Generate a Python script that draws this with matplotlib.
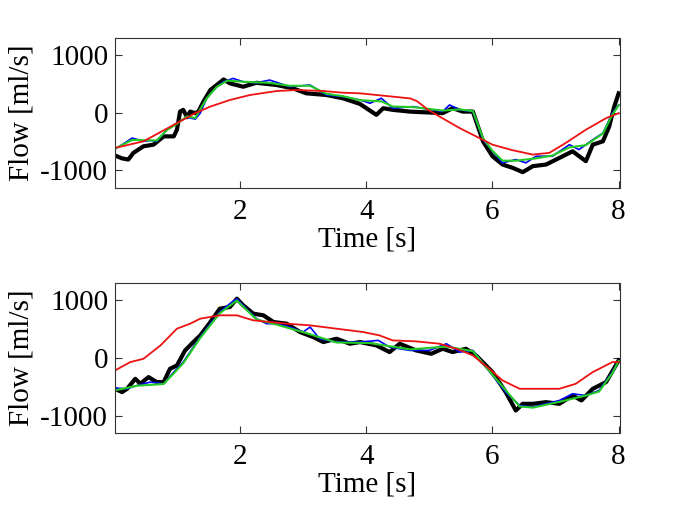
import matplotlib
matplotlib.use('Agg')
import matplotlib.pyplot as plt
import numpy as np

plt.rcParams['font.family'] = ['Liberation Serif', 'DejaVu Serif']
plt.rcParams['axes.unicode_minus'] = False

# ---- top panel ----
t_k1 = [0.02, 0.13, 0.23, 0.31, 0.47, 0.63, 0.79, 0.95, 1.0, 1.05, 1.10, 1.16, 1.21, 1.29, 1.34, 1.42, 1.53,
        1.63, 1.74, 1.84, 2.05, 2.26, 2.58, 2.84, 3.05, 3.37, 3.63, 3.90, 4.16, 4.27, 4.42, 4.69, 5.21, 5.37,
        5.53, 5.69, 5.85, 6.00, 6.16, 6.32, 6.48, 6.64, 6.85, 7.06, 7.27, 7.48, 7.59, 7.75, 7.85, 7.93, 8.0]
k1 = [-740, -790, -810, -695, -580, -552, -408, -408, -293, 22, 52, -75, 22, -5, 22, 195, 397,
      483, 580, 512, 454, 522, 483, 425, 339, 310, 253, 155, -34, 81, 52, 22, -5, 81,
      22, 22, -494, -753, -897, -954, -1029, -925, -897, -782, -667, -839, -552, -494, -236, 109, 339]

t_b1 = [0.02, 0.15, 0.29, 0.40, 0.47, 0.58, 0.68, 0.84, 1.0, 1.16, 1.29, 1.37, 1.47, 1.63, 1.74, 1.89, 2.05,
        2.26, 2.47, 2.79, 3.11, 3.37, 3.63, 3.90, 4.06, 4.24, 4.42, 4.74, 5.0, 5.21, 5.32, 5.48, 5.69, 5.85,
        6.0, 6.16, 6.37, 6.53, 6.69, 6.95, 7.22, 7.37, 7.59, 7.75, 7.90, 8.0]
b1 = [-626, -540, -437, -470, -494, -480, -494, -293, -178, -75, -109, -5, 253, 454, 540, 598, 540,
      522, 569, 454, 483, 310, 282, 224, 167, 253, 81, 109, 60, 22, 138, 52, 22, -466,
      -667, -868, -810, -868, -753, -753, -552, -638, -466, -351, -5, 138]

t_g1 = [0.02, 0.29, 0.68, 0.84, 1.0, 1.16, 1.29, 1.47, 1.63, 1.80, 2.05, 2.47, 2.79, 3.11, 3.37, 3.63, 3.90,
        4.24, 4.42, 4.74, 5.21, 5.48, 5.69, 5.85, 6.0, 6.16, 6.37, 6.69, 6.95, 7.22, 7.48, 7.75, 7.90, 8.0]
g1 = [-620, -470, -480, -300, -190, -60, -90, 250, 450, 560, 540, 520, 470, 470, 330, 290, 220,
      200, 110, 100, 40, 60, 30, -440, -660, -830, -830, -790, -740, -600, -560, -360, -30, 130]

t_r1 = [0.02, 0.47, 1.0, 1.29, 1.53, 1.84, 2.16, 2.58, 2.90, 3.32, 3.63, 3.90, 4.42, 4.70, 4.80, 4.88, 4.97,
        5.16, 5.48, 5.74, 6.0, 6.32, 6.64, 6.90, 7.16, 7.48, 7.80, 8.0]
r1 = [-609, -494, -178, -5, 109, 224, 310, 379, 397, 379, 350, 339, 282, 250, 205, 140, 60,
      -63, -264, -408, -552, -649, -724, -695, -523, -293, -92, -5]

# ---- bottom panel ----
t_k2 = [0.02, 0.13, 0.21, 0.34, 0.42, 0.55, 0.68, 0.79, 0.89, 1.0, 1.13, 1.26, 1.37, 1.53, 1.68, 1.84, 1.95,
        2.05, 2.21, 2.37, 2.53, 2.74, 2.95, 3.16, 3.32, 3.53, 3.74, 3.90, 4.16, 4.37, 4.53, 4.79, 5.03, 5.21,
        5.37, 5.58, 5.74, 6.0, 6.21, 6.37, 6.48, 6.64, 6.85, 7.06, 7.27, 7.41, 7.59, 7.80, 8.0]
k2 = [-533, -591, -533, -360, -446, -330, -417, -417, -186, -128, 133, 278, 394, 626, 858, 887, 1031,
      916, 771, 742, 626, 597, 452, 365, 278, 336, 249, 278, 220, 104, 249, 133, 75, 162,
      104, 162, 46, -243, -591, -910, -794, -794, -765, -794, -649, -736, -533, -417, -41]

t_b2 = [0.02, 0.21, 0.37, 0.58, 0.79, 0.95, 1.10, 1.26, 1.37, 1.53, 1.68, 1.84, 1.95, 2.10, 2.26, 2.42, 2.58,
        2.79, 3.0, 3.11, 3.26, 3.53, 3.79, 3.90, 4.19, 4.37, 4.69, 5.0, 5.27, 5.48, 5.69, 6.0, 6.21, 6.43,
        6.64, 6.85, 7.06, 7.27, 7.48, 7.69, 7.90, 8.0]
b2 = [-520, -533, -475, -417, -446, -243, -70, 191, 365, 597, 800, 945, 1031, 858, 684, 597, 597,
      539, 452, 539, 336, 278, 278, 278, 307, 191, 133, 133, 249, 104, 133, -301, -591, -823,
      -852, -794, -736, -620, -649, -562, -243, -41]

t_g2 = [0.02, 0.37, 0.79, 1.10, 1.37, 1.68, 1.95, 2.26, 2.58, 3.0, 3.53, 4.06, 4.69, 5.27, 5.69, 6.0, 6.43,
        6.64, 7.06, 7.48, 7.69, 7.90, 8.0]
g2 = [-560, -480, -450, -90, 350, 780, 1000, 670, 580, 450, 270, 260, 150, 200, 120, -290, -840,
      -860, -760, -650, -580, -260, -50]

t_r2 = [0.02, 0.26, 0.47, 0.74, 1.0, 1.21, 1.37, 1.68, 1.95, 2.21, 2.47, 2.74, 3.11, 3.53, 3.95, 4.21,
        4.42, 4.79, 5.16, 5.43, 5.69, 5.95, 6.16, 6.43, 6.74, 7.06, 7.32, 7.59, 7.90, 8.0]
r2 = [-214, -70, -12, 220, 510, 597, 684, 742, 742, 655, 626, 597, 568, 510, 452, 394,
      307, 290, 249, 162, 46, -186, -388, -533, -533, -533, -446, -243, -70, -70]

fig = plt.figure(figsize=(6.85, 5.13), dpi=100)
ax1 = fig.add_axes([0.168, 0.634, 0.737, 0.292])
ax2 = fig.add_axes([0.168, 0.156, 0.737, 0.292])

for ax, tk, k, tb, b, tg, g, tr, r in [(ax1, t_k1, k1, t_b1, b1, t_g1, g1, t_r1, r1),
                                       (ax2, t_k2, k2, t_b2, b2, t_g2, g2, t_r2, r2)]:
    ax.plot(tk, k, color='black', lw=3)
    ax.plot(tb, b, color='#0000ff', lw=1.2)
    ax.plot(tg, g, color='#22cc22', lw=1.5)
    ax.plot(tr, r, color='#ee1111', lw=1.3)
    ax.set_xlim(0.02, 8.02)
    ax.set_ylim(-1300, 1300)
    ax.set_xticks([2, 4, 6, 8])
    ax.set_yticks([-1000, 0, 1000])
    ax.tick_params(direction='in', top=True, right=True, labelsize=21, length=5, color='#333333')
    ax.tick_params(axis='x', pad=8)
    ax.tick_params(axis='y', pad=5)
    for s in ax.spines.values():
        s.set_color('#333333')
    ax.set_xlabel('Time [s]', fontsize=21, labelpad=1)
    ax.set_ylabel('Flow [ml/s]', fontsize=21, labelpad=4)

fig.savefig('out.png', dpi=100)
